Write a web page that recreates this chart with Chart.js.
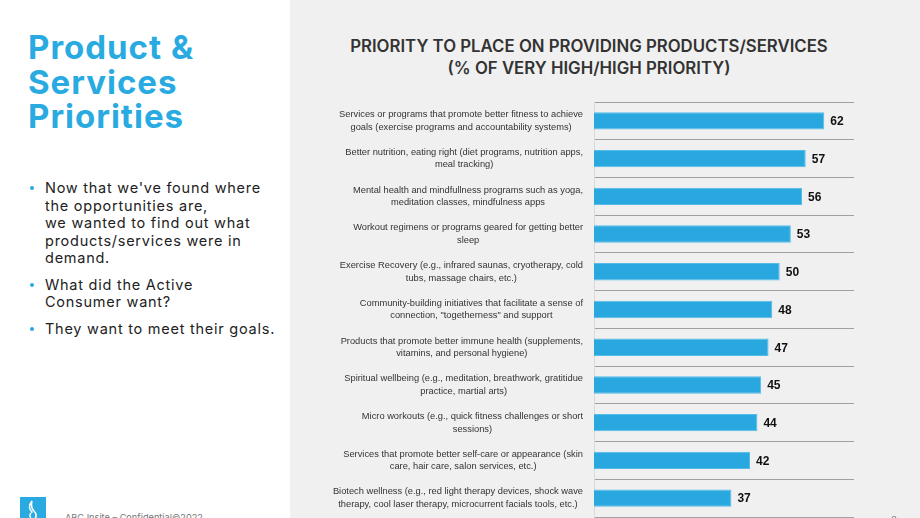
<!DOCTYPE html>
<html>
<head>
<meta charset="utf-8">
<script src="https://cdn.jsdelivr.net/npm/chart.js@4.4.1/dist/chart.umd.min.js"></script>
<style>
    html, body {margin:0; padding:0; width:920px; height:518px; overflow:hidden; background:#fff; font-family:Inter, sans-serif;}
    #panel {position:absolute; left:290px; top:0; width:630px; height:518px; background:#f0f0f0;}
    #big-title {position:absolute; left:28px; top:30px; font-weight:700; font-size:33px; line-height:34.5px; color:#29abe2; letter-spacing:1px;}
    #bullets {position:absolute; left:30px; top:179px; width:260px; color:#222; font-size:14.5px; line-height:17.5px; letter-spacing:0.75px; white-space:nowrap;}
    .bullet {position:relative; padding-left:15px; margin-bottom:9px;}
    .bullet:before {content:""; position:absolute; left:0; top:7px; width:4px; height:4px; border-radius:50%; background:#29abe2;}
    #chart-title {position:absolute; left:300px; width:578px; top:35px; text-align:center; font-weight:600; font-size:16.8px; line-height:22px; color:#333;}
    #chart-wrap {position:absolute; left:300px; top:95px; width:620px; height:423px;}
    #logo {position:absolute; left:20px; top:497px; width:26px; height:26px; background:#29abe2;}
    #footer {position:absolute; left:65px; top:512px; font-size:9.2px; color:#777;}
    #page {position:absolute; left:891px; top:514px; font-size:10px; color:#777;}
</style>
</head>
<body>
<div id="panel"></div>
<div id="big-title">Product &amp;<br>Services<br>Priorities</div>
<div id="bullets">
    <div class="bullet">Now that we've found where<br>the opportunities are,<br>we wanted to find out what<br>products/services were in<br>demand.</div>
    <div class="bullet">What did the Active<br>Consumer want?</div>
    <div class="bullet">They want to meet their goals.</div>
</div>
<div id="chart-title">PRIORITY TO PLACE ON PROVIDING PRODUCTS/SERVICES<br>(% OF VERY HIGH/HIGH PRIORITY)</div>
<div id="chart-wrap"><canvas id="chart"></canvas></div>
<div id="logo"><svg width="26" height="26" viewBox="0 0 26 26"><path d="M12 4 C8 9 9 12 12 15 C9 17 9 21 13 23 C17 21 17 17 14 14 C11 11 11 8 12 4 Z" fill="none" stroke="#fff" stroke-width="1.5"/></svg></div>
<div id="footer">ABC Insite &ndash; Confidential©2022</div>
<div id="page">3</div>
<script>
var categories = [
    ["Services or programs that promote better fitness to achieve", "goals (exercise programs and accountability systems)"],
    ["Better nutrition, eating right (diet programs, nutrition apps,", "meal tracking)"],
    ["Mental health and mindfullness programs such as yoga,", "meditation classes, mindfulness apps"],
    ["Workout regimens or programs geared for getting better", "sleep"],
    ["Exercise Recovery (e.g., infrared saunas, cryotherapy, cold", "tubs, massage chairs, etc.)"],
    ["Community-building initiatives that facilitate a sense of", "connection, \"togetherness\" and support"],
    ["Products that promote better immune health (supplements,", "vitamins, and personal hygiene)"],
    ["Spiritual wellbeing (e.g., meditation, breathwork, gratitidue", "practice, martial arts)"],
    ["Micro workouts (e.g., quick fitness challenges or short", "sessions)"],
    ["Services that promote better self-care or appearance (skin", "care, hair care, salon services, etc.)"],
    ["Biotech wellness (e.g., red light therapy devices, shock wave", "therapy, cool laser therapy, microcurrent facials tools, etc.)"]
];
var priorityValues = [62, 57, 56, 53, 50, 48, 47, 45, 44, 42, 37];
var axisMax = 70;

// value labels at bar ends
var valueLabels = {
    id: 'valueLabels',
    afterDatasetsDraw(chart) {
        let ctx = chart.ctx;
        let meta = chart.getDatasetMeta(0);
        ctx.save();
        ctx.font = 'bold 12px "Liberation Sans", Arial, sans-serif';
        ctx.fillStyle = '#111';
        ctx.textAlign = 'left';
        ctx.textBaseline = 'middle';
        meta.data.forEach((bar, i) => ctx.fillText(chart.data.datasets[0].data[i], bar.x + 6, bar.y + 1));
        ctx.restore();
    }
};

// category labels: each block centred on itself, block right aligned
var catLabels = {
    id: 'catLabels',
    afterDraw(chart) {
        let ctx = chart.ctx;
        let scale = chart.scales.y;
        let right = chart.chartArea.left - 11;
        ctx.save();
        ctx.font = '9.3px "Liberation Sans", Arial, sans-serif';
        ctx.fillStyle = '#333';
        ctx.textAlign = 'center';
        ctx.textBaseline = 'middle';
        chart.data.labels.forEach((lines, i) => {
            let y = scale.getPixelForTick(i);
            let w = Math.max(...lines.map((l) => ctx.measureText(l).width));
            let cx = right - w / 2;
            let lh = 12.5;
            lines.forEach((l, j) => ctx.fillText(l, cx, y + (j - (lines.length - 1) / 2) * lh));
        });
        ctx.restore();
    }
};

new Chart(document.getElementById('chart'), {
    type: 'bar',
    data: {
        labels: categories,
        datasets: [{
            data: priorityValues,
            backgroundColor: '#29a8e0',
            borderColor: '#55bbe8',
            borderWidth: 1,
            borderSkipped: 'left',
            barPercentage: 0.46,
            categoryPercentage: 1
        }]
    },
    options: {
        indexAxis: 'y',
        responsive: true,
        maintainAspectRatio: false,
        animation: false,
        layout: {padding: {top: 7, bottom: 1, right: 66, left: 0}},
        plugins: {legend: {display: false}, tooltip: {enabled: false}},
        scales: {
            x: {display: false, min: 0, max: axisMax},
            y: {
                grid: {offset: true, drawTicks: false, color: '#a0a0a0', lineWidth: 1},
                border: {display: true, color: '#d9d9d9'},
                ticks: {display: false},
                afterFit: (scale) => { scale.width = 294; }
            }
        }
    },
    plugins: [valueLabels, catLabels]
});
</script>
</body>
</html>
